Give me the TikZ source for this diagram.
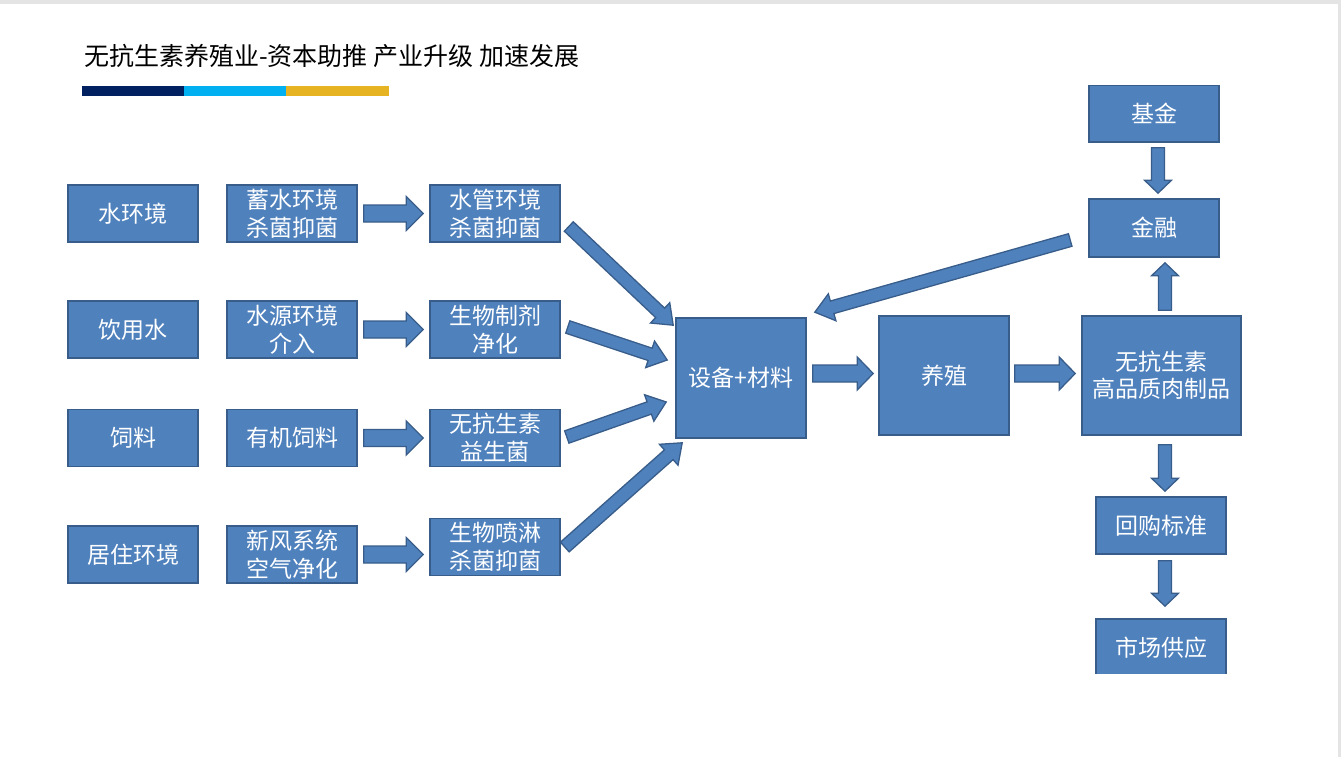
\documentclass[tikz,border=0pt]{standalone}
\usepackage{fontspec}
\setmainfont{Noto Sans CJK SC}
\usepackage{tikz}
\usetikzlibrary{calc}
\definecolor{boxblue}{RGB}{79, 129, 189}
\definecolor{boxedge}{RGB}{56, 93, 138}
\definecolor{barnavy}{RGB}{0, 32, 96}
\definecolor{barcyan}{RGB}{0, 176, 240}
\definecolor{bargold}{RGB}{230, 180, 34}
\definecolor{framegray}{RGB}{228, 228, 228}

% block arrow: shaft half width, head half width, head length, from, to
\newcommand{\blockarrow}[5]{%
  \coordinate (ba-s) at #4;
  \coordinate (ba-e) at #5;
  \coordinate (ba-c) at ($(ba-e)!#3!(ba-s)$);
  \filldraw[arrowfill] ($(ba-s)!#1!90:(ba-e)$) -- ($(ba-c)!#1!90:(ba-e)$) -- ($(ba-c)!#2!90:(ba-e)$) -- (ba-e)
    -- ($(ba-c)!#2!-90:(ba-e)$) -- ($(ba-c)!#1!-90:(ba-e)$) -- ($(ba-s)!#1!-90:(ba-e)$) -- cycle;
}

\begin{document}
\begin{tikzpicture}[x=1pt, y=-1pt,
        blockbox/.style={rectangle, draw=boxedge, fill=boxblue, line width=1.6pt, text=white, minimum width=130pt, minimum height=57pt, inner sep=0pt, align=center, font=\fontsize{23}{28}\selectfont},
        arrowfill/.style={fill=boxblue, draw=boxedge, line width=1.3pt, line join=miter}
    ]
    \useasboundingbox (0,0) rectangle (1341,757);
    \fill[framegray] (0,0) rectangle (1341,757);
    \fill[white] (0,4) rectangle (1338,757);

    % title and bars
    \node[anchor=west, inner sep=0pt, font=\fontsize{25}{30}\selectfont] (title) at (84,56) {无抗生素养殖业-资本助推 产业升级 加速发展};
    \fill[barnavy] (82,86) rectangle (184,96);
    \fill[barcyan] (184,86) rectangle (286,96);
    \fill[bargold] (286,86) rectangle (389,96);

    \begin{scope}
    \clip (0,86) rectangle (1341,673);
    % left columns
    \node[blockbox] (s1) at (133,213.5) {水环境};
    \node[blockbox] (s2) at (133,329.5) {饮用水};
    \node[blockbox] (s3) at (133,438) {饲料};
    \node[blockbox] (s4) at (133,554.5) {居住环境};

    \node[blockbox] (m1) at (292,213.5) {蓄水环境\\杀菌抑菌};
    \node[blockbox] (m2) at (292,329.5) {水源环境\\介入};
    \node[blockbox] (m3) at (292,438) {有机饲料};
    \node[blockbox] (m4) at (292,554.5) {新风系统\\空气净化};

    \node[blockbox] (t1) at (495,213.5) {水管环境\\杀菌抑菌};
    \node[blockbox] (t2) at (495,329.5) {生物制剂\\净化};
    \node[blockbox] (t3) at (495,438) {无抗生素\\益生菌};
    \node[blockbox] (t4) at (495,547) {生物喷淋\\杀菌抑菌};

    % main chain
    \node[blockbox, minimum height=120pt] (equip) at (741,378) {设备+材料};
    \node[blockbox, minimum height=119pt] (farm) at (944,375.5) {养殖};
    \node[blockbox, minimum width=159pt, minimum height=119pt, font=\fontsize{23}{27}\selectfont] (meat) at (1161.5,375.5) {无抗生素\\高品质肉制品};

    % right column
    \node[blockbox] (fund) at (1154,113.5) {基金};
    \node[blockbox, minimum height=58pt] (fin) at (1154,228) {金融};
    \node[blockbox] (buy) at (1161,525.5) {回购标准};
    \node[blockbox] (market) at (1161,647.5) {市场供应};

    \foreach \r in {1,...,4}{
        \blockarrow{8.5pt}{17pt}{17pt}{($(m\r.east)+(6,0)$)}{($(t\r.west |- m\r.east)+(-6,0)$)}
    }
    \blockarrow{6.5pt}{14pt}{18pt}{($(t1.east)+(8,13)$)}{($(equip.north west)+(-2,8)$)}
    \blockarrow{6.5pt}{14pt}{18pt}{($(t2.east)+(7,-2.5)$)}{($(equip.west)+(-8,-18)$)}
    \blockarrow{6.5pt}{14pt}{18pt}{($(t3.east)+(6,-1)$)}{($(equip.west)+(-9,24)$)}
    \blockarrow{6.5pt}{14pt}{18pt}{($(t4.east)+(4,0)$)}{($(equip.south west)+(7,4)$)}
    \blockarrow{6.5pt}{14pt}{18pt}{($(fin.west)+(-18,12)$)}{($(equip.north east)+(8,-5)$)}

    \blockarrow{8.5pt}{16.5pt}{16pt}{($(equip.east)+(6,-4.5)$)}{($(farm.west)+(-5,-2)$)}
    \blockarrow{8.5pt}{16.5pt}{16pt}{($(farm.east)+(5,-2)$)}{($(meat.west)+(-6,-2)$)}

    \blockarrow{6.5pt}{13.5pt}{13pt}{($(fund.south)+(4,5)$)}{($(fin.north)+(4,-5)$)}
    \blockarrow{6.5pt}{13.5pt}{13pt}{($(meat.north)+(3.5,-5)$)}{($(fin.south)+(11,5)$)}
    \blockarrow{6.5pt}{13.5pt}{13pt}{($(meat.south)+(3.5,9)$)}{($(buy.north)+(4,-5)$)}
    \blockarrow{6.5pt}{13.5pt}{13pt}{($(buy.south)+(4,6)$)}{($(market.north)+(4,-12)$)}
    \end{scope}
\end{tikzpicture}
\end{document}
